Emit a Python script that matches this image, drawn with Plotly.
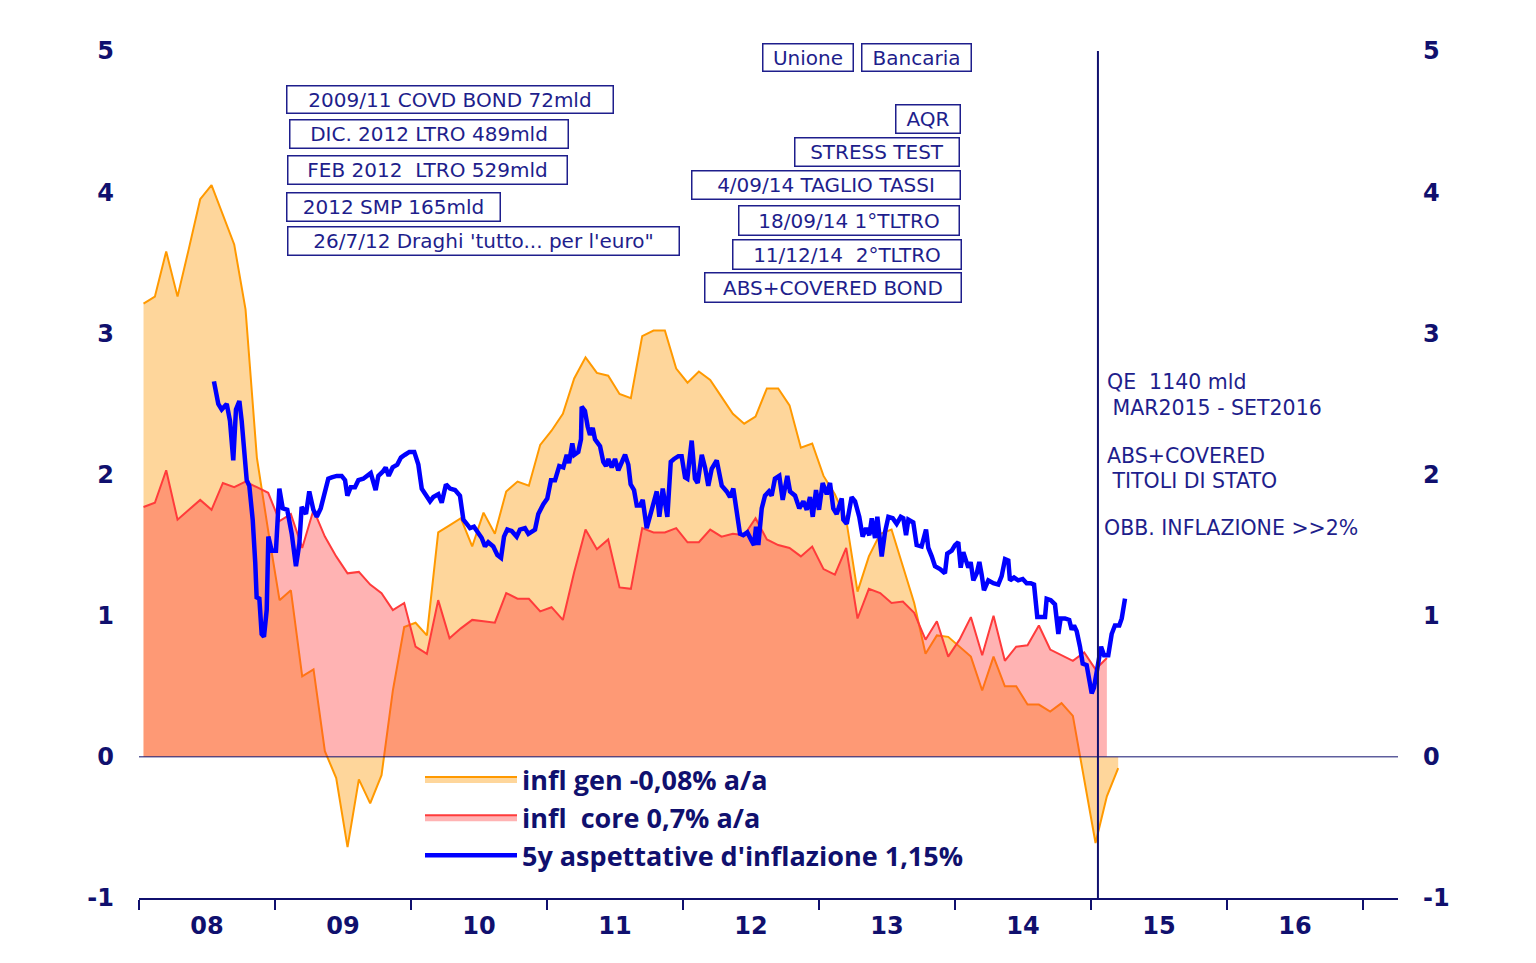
import plotly.graph_objects as go

# ---------------- data ----------------
START_YEAR = 2008
MONTH_POS = 0.4  # monthly observations plotted slightly after month start

# HICP headline, monthly from Jan 2008 to Mar 2015 (% a/a)
infl_gen = [3.21, 3.26, 3.58, 3.26, 3.60, 3.95, 4.05, 3.84, 3.63, 3.17,
            2.12, 1.60, 1.11, 1.18, 0.57, 0.62, 0.04, -0.15, -0.64, -0.16,
            -0.33, -0.13, 0.47, 0.92, 0.95, 0.86, 1.59, 1.64, 1.69, 1.49,
            1.73, 1.58, 1.88, 1.95, 1.92, 2.21, 2.31, 2.43, 2.68, 2.83,
            2.72, 2.70, 2.57, 2.54, 2.98, 3.02, 3.02, 2.75, 2.65, 2.73,
            2.67, 2.55, 2.43, 2.36, 2.41, 2.61, 2.61, 2.49, 2.19, 2.22,
            1.99, 1.86, 1.68, 1.17, 1.42, 1.58, 1.61, 1.35, 1.09, 0.73,
            0.86, 0.85, 0.78, 0.71, 0.47, 0.71, 0.50, 0.50, 0.37, 0.37,
            0.32, 0.38, 0.29, -0.15, -0.61, -0.28, -0.08]

# core inflation, monthly from Jan 2008 to Feb 2015 (% a/a)
infl_core = [1.77, 1.80, 2.03, 1.68, 1.75, 1.82, 1.75, 1.94, 1.91, 1.95,
             1.91, 1.87, 1.67, 1.72, 1.48, 1.75, 1.56, 1.42, 1.30, 1.31,
             1.22, 1.16, 1.04, 1.09, 0.78, 0.73, 1.11, 0.84, 0.91, 0.97,
             0.96, 0.95, 1.16, 1.12, 1.12, 1.03, 1.06, 0.97, 1.31, 1.61,
             1.47, 1.54, 1.20, 1.19, 1.62, 1.59, 1.59, 1.62, 1.52, 1.52,
             1.61, 1.56, 1.58, 1.57, 1.69, 1.54, 1.50, 1.48, 1.42, 1.49,
             1.33, 1.29, 1.48, 0.98, 1.19, 1.16, 1.09, 1.10, 1.02, 0.83,
             0.96, 0.71, 0.83, 0.99, 0.72, 1.00, 0.68, 0.78, 0.79, 0.93,
             0.76, 0.72, 0.68, 0.74, 0.62, 0.70]

# 5y inflation expectations: dates as decimal years, values in %
exp5y_t = [2008.551, 2008.583, 2008.608, 2008.645, 2008.669, 2008.693, 2008.713, 2008.738,
           2008.755, 2008.779, 2008.792, 2008.811, 2008.836, 2008.855, 2008.865, 2008.885,
           2008.902, 2008.919, 2008.939, 2008.951, 2008.976, 2009.007, 2009.032, 2009.057,
           2009.090, 2009.123, 2009.154, 2009.179, 2009.196, 2009.228, 2009.252, 2009.282,
           2009.307, 2009.336, 2009.360, 2009.392, 2009.417, 2009.454, 2009.490, 2009.515,
           2009.532, 2009.557, 2009.588, 2009.613, 2009.649, 2009.679, 2009.704, 2009.740,
           2009.760, 2009.792, 2009.814, 2009.836, 2009.865, 2009.899, 2009.926, 2009.956,
           2009.988, 2010.024, 2010.054, 2010.079, 2010.115, 2010.140, 2010.164, 2010.201,
           2010.226, 2010.257, 2010.287, 2010.324, 2010.360, 2010.385, 2010.410, 2010.434,
           2010.463, 2010.495, 2010.520, 2010.544, 2010.568, 2010.605, 2010.635, 2010.662,
           2010.684, 2010.708, 2010.740, 2010.777, 2010.801, 2010.838, 2010.863, 2010.912,
           2010.936, 2010.973, 2011.002, 2011.029, 2011.059, 2011.090, 2011.120, 2011.145,
           2011.162, 2011.186, 2011.201, 2011.230, 2011.250, 2011.255, 2011.279, 2011.299,
           2011.316, 2011.336, 2011.353, 2011.390, 2011.414, 2011.434, 2011.451, 2011.476,
           2011.500, 2011.524, 2011.549, 2011.574, 2011.598, 2011.615, 2011.640, 2011.660,
           2011.684, 2011.704, 2011.733, 2011.757, 2011.782, 2011.807, 2011.826, 2011.851,
           2011.885, 2011.910, 2011.934, 2011.966, 2011.990, 2012.015, 2012.032, 2012.064,
           2012.088, 2012.108, 2012.138, 2012.162, 2012.186, 2012.211, 2012.248, 2012.285,
           2012.321, 2012.346, 2012.370, 2012.395, 2012.419, 2012.443, 2012.473, 2012.505,
           2012.522, 2012.537, 2012.554, 2012.579, 2012.603, 2012.632, 2012.652, 2012.676,
           2012.708, 2012.733, 2012.767, 2012.787, 2012.824, 2012.855, 2012.885, 2012.910,
           2012.934, 2012.954, 2012.978, 2013.000, 2013.027, 2013.057, 2013.081, 2013.105,
           2013.130, 2013.167, 2013.179, 2013.204, 2013.240, 2013.265, 2013.296, 2013.321,
           2013.346, 2013.370, 2013.388, 2013.412, 2013.429, 2013.461, 2013.485, 2013.510,
           2013.542, 2013.571, 2013.601, 2013.620, 2013.640, 2013.657, 2013.693, 2013.718,
           2013.754, 2013.787, 2013.804, 2013.829, 2013.853, 2013.890, 2013.926, 2013.943,
           2013.976, 2014.000, 2014.024, 2014.042, 2014.061, 2014.081, 2014.098, 2014.115,
           2014.135, 2014.160, 2014.179, 2014.196, 2014.213, 2014.245, 2014.282, 2014.318,
           2014.343, 2014.368, 2014.392, 2014.404, 2014.434, 2014.465, 2014.498, 2014.527,
           2014.557, 2014.581, 2014.605, 2014.638, 2014.662, 2014.674, 2014.704, 2014.735,
           2014.760, 2014.777, 2014.809, 2014.840, 2014.858, 2014.875, 2014.895, 2014.919,
           2014.939, 2014.968, 2014.988, 2015.005, 2015.022, 2015.042, 2015.061, 2015.074,
           2015.096, 2015.127, 2015.152, 2015.176, 2015.208, 2015.226, 2015.250]
exp5y_v = [2.66, 2.50, 2.46, 2.50, 2.38, 2.10, 2.46, 2.52,
           2.38, 2.08, 1.96, 1.92, 1.68, 1.37, 1.13, 1.12,
           0.87, 0.85, 1.04, 1.56, 1.46, 1.46, 1.90, 1.76,
           1.75, 1.58, 1.35, 1.51, 1.77, 1.72, 1.88, 1.75,
           1.70, 1.76, 1.84, 1.97, 1.98, 1.99, 1.99, 1.96,
           1.85, 1.91, 1.91, 1.96, 1.97, 1.99, 2.01, 1.89,
           1.99, 2.02, 2.05, 1.99, 2.05, 2.07, 2.12, 2.14,
           2.16, 2.16, 2.07, 1.90, 1.85, 1.81, 1.84, 1.86,
           1.80, 1.93, 1.90, 1.89, 1.85, 1.68, 1.65, 1.62,
           1.63, 1.59, 1.55, 1.49, 1.52, 1.49, 1.43, 1.41,
           1.56, 1.61, 1.60, 1.56, 1.61, 1.62, 1.58, 1.61,
           1.72, 1.79, 1.83, 1.96, 1.96, 2.06, 2.05, 2.14,
           2.08, 2.22, 2.14, 2.16, 2.25, 2.48, 2.45, 2.34,
           2.28, 2.33, 2.25, 2.20, 2.09, 2.06, 2.11, 2.05,
           2.11, 2.03, 2.08, 2.14, 2.07, 1.93, 1.89, 1.78,
           1.78, 1.82, 1.62, 1.70, 1.79, 1.88, 1.70, 1.90,
           1.70, 2.09, 2.11, 2.13, 2.13, 1.98, 1.97, 2.24,
           1.97, 1.94, 2.14, 2.05, 1.92, 2.04, 2.10, 1.92,
           1.88, 1.84, 1.90, 1.75, 1.58, 1.57, 1.59, 1.53,
           1.50, 1.63, 1.50, 1.76, 1.85, 1.88, 1.85, 1.97,
           1.99, 1.82, 1.99, 1.88, 1.85, 1.76, 1.81, 1.75,
           1.84, 1.70, 1.89, 1.75, 1.94, 1.86, 1.94, 1.76,
           1.72, 1.83, 1.68, 1.65, 1.84, 1.81, 1.70, 1.56,
           1.62, 1.57, 1.69, 1.55, 1.70, 1.42, 1.59, 1.70,
           1.69, 1.65, 1.70, 1.69, 1.57, 1.68, 1.66, 1.50,
           1.49, 1.61, 1.48, 1.42, 1.35, 1.33, 1.30, 1.44,
           1.46, 1.50, 1.52, 1.34, 1.45, 1.39, 1.34, 1.38,
           1.25, 1.30, 1.38, 1.29, 1.18, 1.25, 1.23, 1.22,
           1.28, 1.40, 1.39, 1.25, 1.27, 1.25, 1.26, 1.23,
           1.23, 1.22, 0.99, 0.99, 0.99, 1.12, 1.11, 1.08,
           0.87, 0.98, 0.98, 0.97, 0.90, 0.93, 0.89, 0.78,
           0.66, 0.65, 0.53, 0.45, 0.49, 0.62, 0.73, 0.78,
           0.72, 0.72, 0.87, 0.93, 0.93, 0.98, 1.12]

series_names = ["infl gen -0,08% a/a",
                "infl\u00a0 core 0,7% a/a",
                "5y aspettative d'inflazione 1,15%"]

year_labels = ["08", "09", "10", "11", "12", "13", "14", "15", "16"]
y_ticks = [-1, 0, 1, 2, 3, 4, 5]
y_labels = ["-1", "0", "1", "2", "3", "4", "5"]
QE_DATE = 2015.051  # 22 Jan 2015, QE announcement

box_notes = [
    ("Unione", 762, 43, 854, 72),
    ("Bancaria", 861, 43, 972, 72),
    ("2009/11 COVD BOND 72mld", 286, 85, 614, 114),
    ("DIC. 2012 LTRO 489mld", 289, 119, 569, 149),
    ("FEB 2012\u00a0 LTRO 529mld", 287, 155, 568, 185),
    ("2012 SMP 165mld", 286, 192, 501, 222),
    ("26/7/12 Draghi 'tutto... per l'euro\"", 287, 226, 680, 256),
    ("AQR", 895, 104, 961, 134),
    ("STRESS TEST", 794, 137, 960, 167),
    ("4/09/14 TAGLIO TASSI", 691, 170, 961, 200),
    ("18/09/14 1°TLTRO", 738, 205, 960, 236),
    ("11/12/14\u00a0 2°TLTRO", 732, 239, 962, 270),
    ("ABS+COVERED BOND", 704, 272, 962, 303),
]
side_notes = [
    ("QE\u00a0 1140 mld", 1105, 382),
    ("\u00a0MAR2015 - SET2016", 1104, 408),
    ("ABS+COVERED", 1105, 456),
    ("\u00a0TITOLI DI STATO", 1104, 481),
    ("OBB. INFLAZIONE >>2%", 1102, 528),
]

# ---------------- styling ----------------
W, H = 1536, 963
L, R, T, B = 139, 138, 51, 65
NAVY = "#10106E"
TXT = "#1E1E8C"
X_RANGE = [START_YEAR, START_YEAR + (W - L - R) / 136.0]


def px_x(px):
    return (px - L) / (W - L - R)


def px_y(py):
    return (H - B - py) / (H - T - B)


x_gen = [START_YEAR + (i + MONTH_POS) / 12 for i in range(len(infl_gen))]
x_core = [START_YEAR + (i + MONTH_POS) / 12 for i in range(len(infl_core))]

fig = go.Figure()
fig.add_trace(go.Scatter(
    x=x_gen, y=infl_gen, name=series_names[0], mode="lines",
    line=dict(color="#FF9900", width=2), fill="tozeroy",
    fillcolor="rgb(254,214,155)"))
fig.add_trace(go.Scatter(
    x=x_core, y=infl_core, name=series_names[1], mode="lines",
    line=dict(color="#FF3B3B", width=2), fill="tozeroy",
    fillcolor="rgba(255,55,55,0.38)"))
fig.add_trace(go.Scatter(
    x=exp5y_t, y=exp5y_v, name=series_names[2], mode="lines",
    line=dict(color="#0000FF", width=4.5)))
# invisible copy on the right axis so that it is drawn
fig.add_trace(go.Scatter(
    x=x_core, y=infl_core, yaxis="y2", mode="lines", opacity=0,
    showlegend=False, hoverinfo="skip", line=dict(width=0)))

tickfont = dict(family="DejaVu Sans, Verdana", size=24, color=NAVY, weight="bold")

fig.update_layout(
    width=W, height=H,
    margin=dict(l=L, r=R, t=T, b=B, autoexpand=False),
    plot_bgcolor="white", paper_bgcolor="white",
    xaxis=dict(range=X_RANGE, showgrid=False, zeroline=False,
               tickvals=[START_YEAR + k + 0.5 for k in range(len(year_labels))],
               ticktext=year_labels, ticks="", tickfont=tickfont,
               showline=True, linecolor=NAVY, linewidth=2,
               ticklabelstandoff=5,
               minor=dict(tickvals=[START_YEAR + k for k in range(len(year_labels) + 1)],
                          ticks="outside", ticklen=10, tickwidth=1.5,
                          tickcolor=NAVY, showgrid=False)),
    yaxis=dict(range=[-1, 5], tickvals=y_ticks, ticktext=y_labels, showgrid=False,
               zeroline=False, showline=False, ticks="", tickfont=tickfont,
               ticklabelstandoff=24),
    yaxis2=dict(range=[-1, 5], tickvals=y_ticks, ticktext=y_labels, showgrid=False,
                zeroline=False, showline=False, ticks="", tickfont=tickfont,
                overlaying="y", side="right", ticklabelstandoff=24),
    showlegend=True,
    legend=dict(x=px_x(420), y=px_y(755), xanchor="left", yanchor="top",
                font=dict(family="Open Sans", size=27, color=NAVY, weight="bold"),
                itemwidth=92, bgcolor="rgba(0,0,0,0)", traceorder="normal"),
    shapes=[
        dict(type="line", xref="paper", x0=0, x1=1, yref="y", y0=0, y1=0,
             line=dict(color=NAVY, width=1), layer="above"),
        dict(type="line", xref="x", x0=QE_DATE, x1=QE_DATE, yref="paper", y0=0, y1=1,
             line=dict(color=NAVY, width=2), layer="above"),
    ],
)

annots = []
for text, x0, y0, x1, y1 in box_notes:
    annots.append(dict(
        text=text, xref="paper", yref="paper", x=px_x(x0), y=px_y(y0),
        xanchor="left", yanchor="top", showarrow=False,
        width=x1 - x0 - 3, height=y1 - y0 - 3, align="center", valign="middle",
        bordercolor=TXT, borderwidth=1.5, borderpad=0, bgcolor="white",
        font=dict(family="DejaVu Sans, Verdana", size=20, color=TXT)))
for text, x0, yc in side_notes:
    annots.append(dict(
        text=text, xref="paper", yref="paper", x=px_x(x0), y=px_y(yc),
        xanchor="left", yanchor="middle", showarrow=False,
        font=dict(family="DejaVu Sans, Verdana", size=20.5, color=TXT)))
fig.update_layout(annotations=annots)

fig.write_html("out.html", config={"displayModeBar": False},
               post_script="document.body.style.margin='0';")
